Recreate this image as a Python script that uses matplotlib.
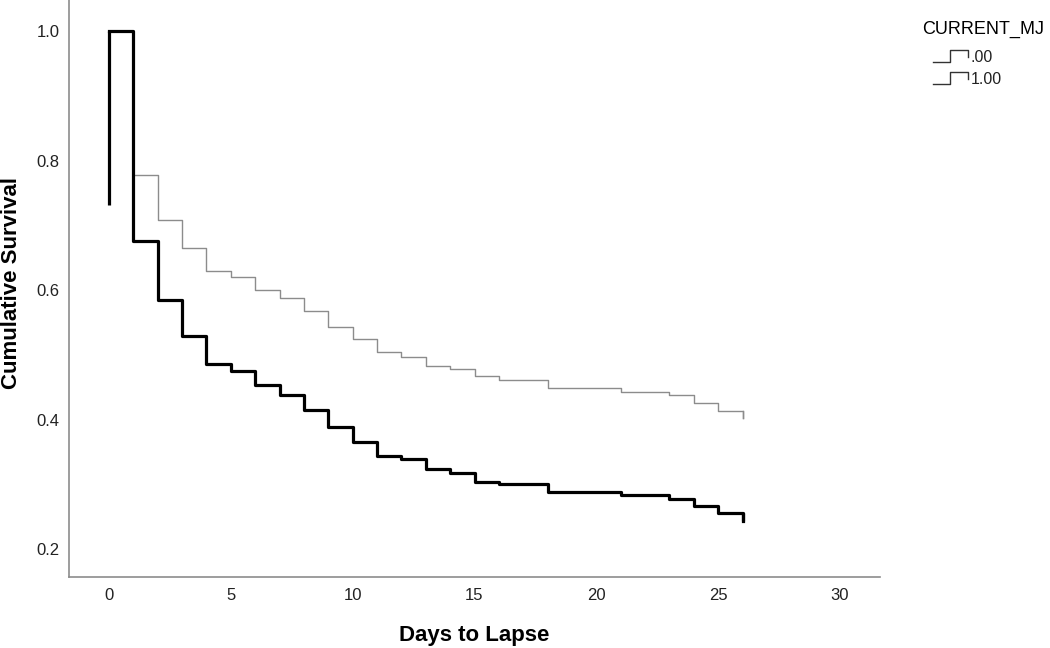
import matplotlib
matplotlib.use('Agg')
from matplotlib import pyplot as plt
from matplotlib.lines import Line2D

plt.rcParams['font.family'] = ['Liberation Sans', 'DejaVu Sans']

### Data (Kaplan-Meier step levels)
# group .00 (thin grey)
days_00 = [0, 1, 2, 3, 4, 5, 6, 7, 8, 9, 10, 11, 12, 13, 14, 15, 16, 18, 21, 23, 24, 25, 26]
surv_00 = [1.0, 0.778, 0.708, 0.665, 0.629, 0.620, 0.600, 0.588, 0.568, 0.543, 0.524,
           0.504, 0.497, 0.483, 0.478, 0.467, 0.461, 0.449, 0.443, 0.438, 0.426, 0.413, 0.402]

# group 1.00 (thick black)
start_11 = 0.731
days_11 = [0, 1, 2, 3, 4, 5, 6, 7, 8, 9, 10, 11, 12, 13, 14, 15, 16, 18, 21, 23, 24, 25, 26]
surv_11 = [1.0, 0.676, 0.585, 0.529, 0.486, 0.475, 0.453, 0.438, 0.415, 0.388, 0.365,
           0.344, 0.339, 0.324, 0.317, 0.304, 0.300, 0.288, 0.283, 0.277, 0.266, 0.256, 0.243]

group_labels = ['.00', '1.00']
legend_title = 'CURRENT_MJ'

xticks = [0, 5, 10, 15, 20, 25, 30]
yticks = [0.2, 0.4, 0.6, 0.8, 1.0]

### Figure
fig = plt.figure(figsize=(10.5, 6.48), dpi=100)
ax = fig.add_axes([69/1050, 1 - 577/648, (880-69)/1050, 577/648])

# step curves (post-step: the level holds until the next day)
ax.step(days_00, surv_00, where='post', color='#8c8c8c', linewidth=1.0, zorder=3)
# end tick of the grey curve
ax.plot([days_00[-1], days_00[-1]], [surv_00[-2], surv_00[-1]], color='#8c8c8c', linewidth=1.0, zorder=3)

ax.plot([days_11[0], days_11[0]], [start_11, surv_11[0]], color='black', linewidth=2.3,
        solid_capstyle='butt', zorder=4)
ax.step(days_11, surv_11, where='post', color='black', linewidth=2.3, zorder=4)
ax.plot([days_11[-1], days_11[-1]], [surv_11[-2], surv_11[-1]], color='black', linewidth=2.3,
        solid_capstyle='butt', zorder=4)

ax.set_xlim(-1.64, 31.64)
ax.set_ylim(0.157, 1.048)
ax.set_xticks(xticks)
ax.set_xticklabels([str(t) for t in xticks])
ax.set_yticks(yticks)
ax.set_yticklabels(['%.1f' % t for t in yticks])
ax.tick_params(length=0, labelsize=12, colors='#222222')
ax.tick_params(axis='x', pad=8)
ax.tick_params(axis='y', pad=7)

for side in ['top', 'right']:
    ax.spines[side].set_visible(False)
for side in ['left', 'bottom']:
    ax.spines[side].set_color('#8c8c8c')
    ax.spines[side].set_linewidth(1.2)

# Axis labels placed in figure coordinates
fig.text(474.5/1050, 1 - 635/648, 'Days to Lapse', fontsize=16, fontweight='bold',
         ha='center', va='center')
fig.text(12/1050, 1 - 283/648, 'Cumulative Survival', fontsize=16, fontweight='bold',
         ha='center', va='center', rotation=90)

### Legend (drawn by hand, SPSS style step icons)
fig.text(922/1050, 1 - 29/648, legend_title, fontsize=13, va='center', ha='left')
for i, lab in enumerate(group_labels):
    yb = 62 + 22*i
    xs = [933, 950, 950, 968, 968]
    ys = [yb, yb, yb - 12, yb - 12, yb - 5]
    fig.add_artist(Line2D([x/1050 for x in xs], [1 - y/648 for y in ys],
                          color='#333333', linewidth=1.0, transform=fig.transFigure))
    fig.text(971/1050, 1 - (yb - 5)/648, lab, fontsize=11.5, va='center', ha='left', color='#222222')

plt.savefig('out.png', dpi=100)
